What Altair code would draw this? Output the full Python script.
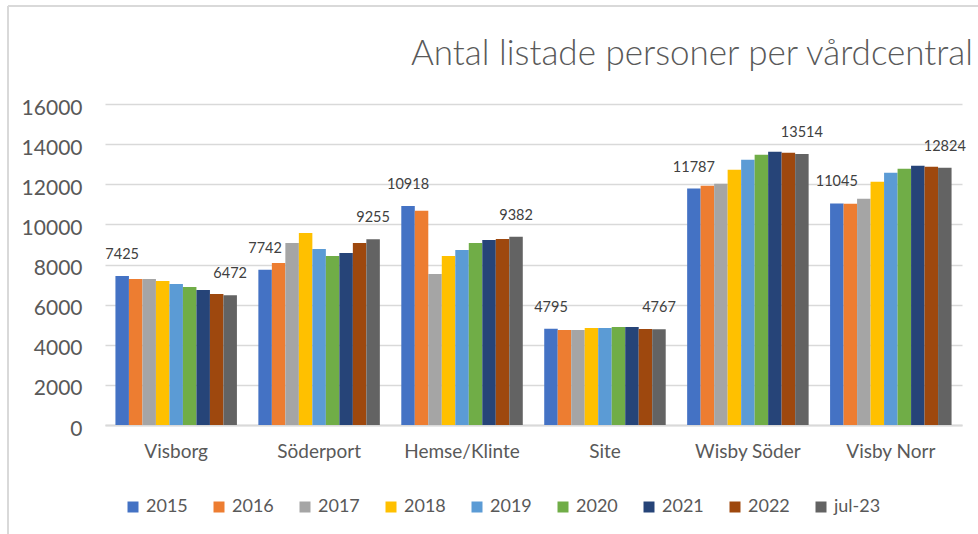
import altair as alt
import pandas as pd

categories = ["Visborg", "Söderport", "Hemse/Klinte", "Site", "Wisby Söder", "Visby Norr"]
series = ["2015", "2016", "2017", "2018", "2019", "2020", "2021", "2022", "jul-23"]
colors = ["#4472C4", "#ED7D31", "#A5A5A5", "#FFC000", "#5B9BD5", "#70AD47", "#264478", "#9E480E", "#636363"]

values = {
    "Visborg":      [7425, 7282, 7282, 7182, 7032, 6883, 6733, 6534, 6472],
    "Söderport":    [7742, 8080, 9077, 9576, 8778, 8429, 8579, 9077, 9255],
    "Hemse/Klinte": [10918, 10673, 7531, 8429, 8728, 9077, 9227, 9277, 9382],
    "Site":         [4795, 4738, 4738, 4838, 4838, 4888, 4888, 4788, 4767],
    "Wisby Söder":  [11787, 11920, 12020, 12718, 13217, 13466, 13616, 13566, 13514],
    "Visby Norr":   [11045, 11022, 11272, 12120, 12569, 12768, 12918, 12868, 12824],
}
labelled_series = ["2015", "jul-23"]

rows = []
for c in categories:
    for s, v in zip(series, values[c]):
        rows.append({"cat": c, "ser": s, "val": v,
                     "lbl": str(v) if s in labelled_series else ""})
df = pd.DataFrame(rows)

FONT = "Lato"
GREY = "#595959"

x_enc = alt.X("cat:N", sort=categories, title=None,
              scale=alt.Scale(paddingInner=0.15, paddingOuter=0.073),
              axis=alt.Axis(labelFont=FONT, labelFontSize=19, labelColor=GREY,
                            labelAngle=0, labelPadding=17, ticks=False,
                            domainColor="#d9d9d9", domainWidth=2))
xoff = alt.XOffset("ser:N", sort=series, scale=alt.Scale(domain=series, paddingInner=0, paddingOuter=0))
y_enc = alt.Y("val:Q", title=None,
              scale=alt.Scale(domain=[0, 16000], nice=False),
              axis=alt.Axis(values=list(range(0, 16001, 2000)), format="d",
                            labelFont=FONT, labelFontSize=21, labelColor=GREY,
                            labelPadding=23, labelOffset=4, ticks=False, domain=False,
                            gridColor="#d9d9d9", gridWidth=1.5))

bars = alt.Chart(df).mark_bar(size=13.5).encode(
    x=x_enc, xOffset=xoff, y=y_enc,
    color=alt.Color("ser:N", sort=series,
                    scale=alt.Scale(domain=series, range=colors),
                    legend=alt.Legend(title=None, orient="none", direction="horizontal",
                                      columns=9, legendX=19, legendY=394,
                                      symbolType="square", symbolSize=121,
                                      symbolStrokeWidth=0, labelFont=FONT,
                                      labelFontSize=18, labelColor=GREY,
                                      labelOffset=4, columnPadding=22)),
)

texts = alt.Chart(df).mark_text(font=FONT, fontSize=14.5, color="#404040",
                                baseline="middle", dy=-21).encode(
    x=alt.X("cat:N", sort=categories), xOffset=xoff, y="val:Q", text="lbl:N"
)

one = pd.DataFrame({"a": [0]})
frame_top = alt.Chart(one).mark_rule(color="#d9d9d9", strokeWidth=2).encode(
    x=alt.value(-97), x2=alt.value(880), y=alt.value(-98))
frame_left = alt.Chart(one).mark_rule(color="#d9d9d9", strokeWidth=2).encode(
    x=alt.value(-97), y=alt.value(-98), y2=alt.value(440))

chart = alt.layer(frame_top, frame_left, bars, texts).properties(
    width=857, height=321,
    padding={"left": 105, "top": 104, "right": 16, "bottom": 109},
    autosize=alt.AutoSizeParams(type="none"),
    title=alt.Title("Antal listade personer per vårdcentral", anchor="end",
                    font=FONT, fontSize=35, fontWeight=300, color=GREY,
                    baseline="alphabetic", offset=-95, dx=11, frame="group"),
).configure_view(stroke=None)

chart.save("out.html", embed_options={"renderer": "svg", "actions": False})
